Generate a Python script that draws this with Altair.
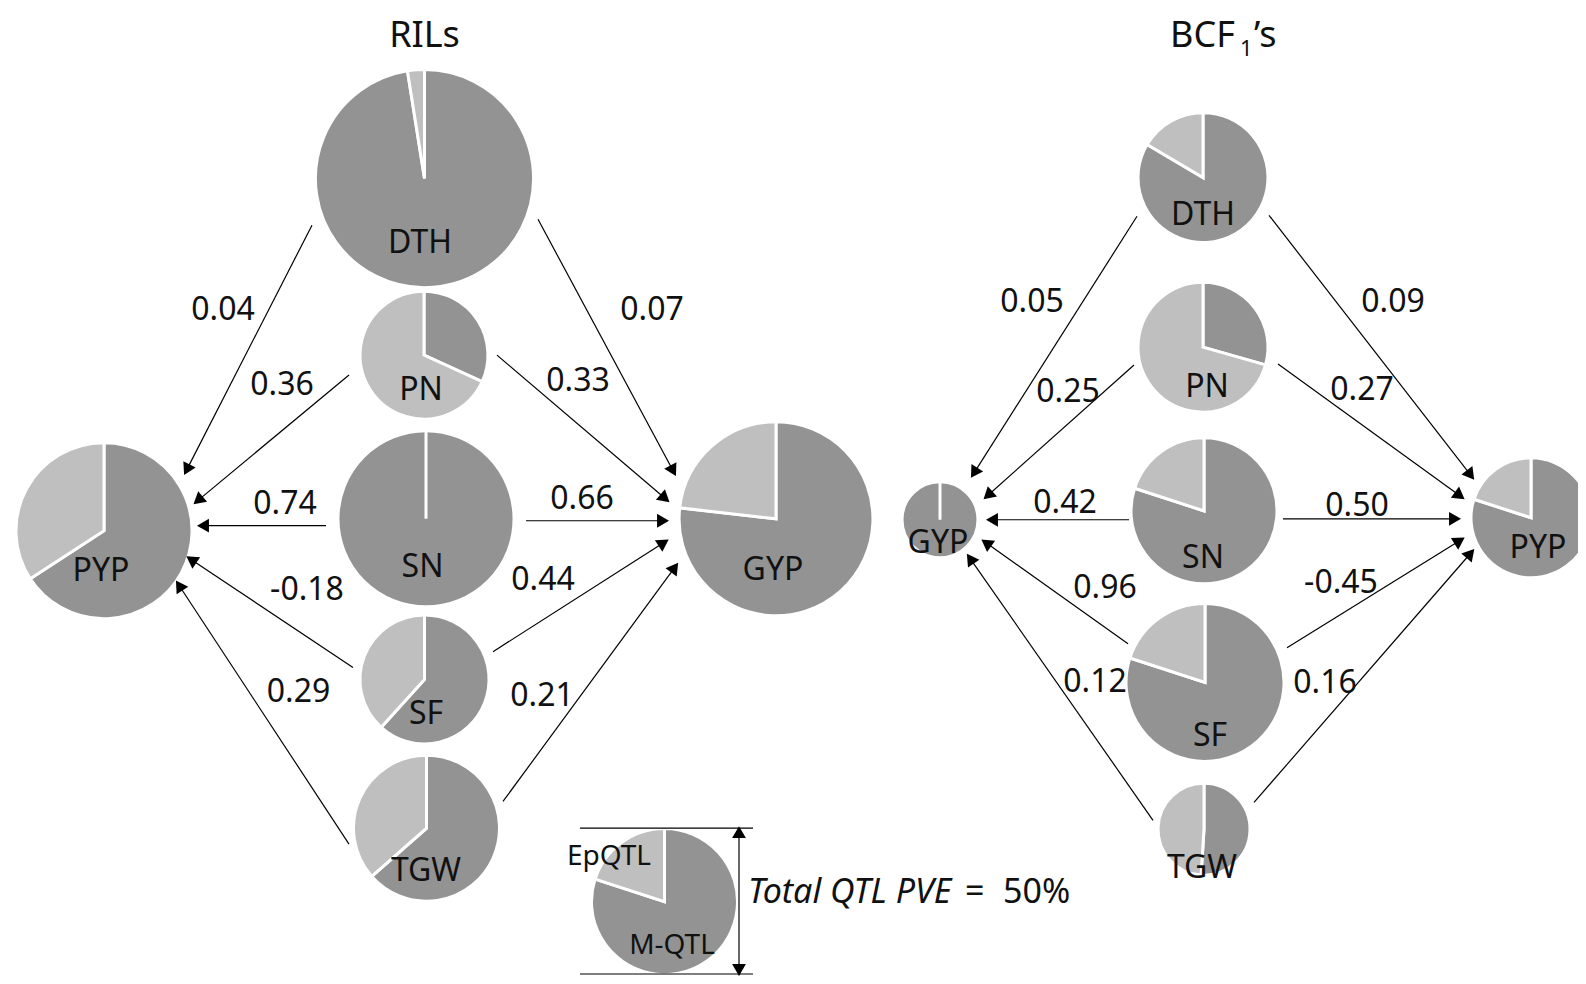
import math
import altair as alt
import pandas as pd

DARK = "#939393"
LIGHT = "#bfbfbf"
FONT = "Noto Sans"

# ---------------- nodes (pie charts) ----------------
node_panel = ["RILs"] * 7 + ["BCF1's"] * 7 + ["legend"]
node_name = ["DTH", "PN", "SN", "SF", "TGW", "PYP", "GYP",
             "DTH", "PN", "SN", "SF", "TGW", "GYP", "PYP", ""]
node_x = [424.5, 424, 426, 424.5, 426.5, 104, 776,
          1203, 1203, 1204, 1205, 1204, 940, 1531, 664.5]
node_y = [180, 358, 523, 685, 835, 535, 523,
          179, 350, 515, 688, 836, 524, 522, 909]
# total QTL PVE (%), shown by the size of each pie
total_pve = [74.7, 43.8, 60.3, 44.2, 50.0, 60.3, 66.4,
             44.5, 44.5, 50.0, 54.1, 31.5, 26.0, 41.1, 50.0]
# share of the total explained by M-QTL (rest = EpQTL)
mqtl_share = [0.975, 0.318, 1.0, 0.617, 0.635, 0.658, 0.768,
              0.835, 0.294, 0.80, 0.80, 0.51, 1.0, 0.80, 0.80]
# node label anchors
label_x = [420, 421, 422.5, 426, 426, 101, 773,
           1203, 1207, 1203, 1210, 1202, 938, 1538]
label_y = [255, 403, 582, 730, 888, 586, 585,
           227, 400, 573, 752, 885, 558, 563]

# ---------------- path coefficients (arrows) ----------------
edge_from = ["DTH", "PN", "SN", "SF", "TGW", "DTH", "PN", "SN", "SF", "TGW",
             "DTH", "PN", "SN", "SF", "TGW", "DTH", "PN", "SN", "SF", "TGW"]
edge_to = ["PYP"] * 5 + ["GYP"] * 5 + ["GYP"] * 5 + ["PYP"] * 5
edge_coef = ["0.04", "0.36", "0.74", "-0.18", "0.29",
             "0.07", "0.33", "0.66", "0.44", "0.21",
             "0.05", "0.25", "0.42", "0.96", "0.12",
             "0.09", "0.27", "0.50", "-0.45", "0.16"]
edge_x0 = [312, 349, 326, 353, 349, 538, 497, 526, 493, 503,
           1137, 1134, 1129, 1128, 1153, 1269, 1278, 1283, 1287, 1254]
edge_y0 = [227, 378, 530, 673, 851, 221, 358, 525, 657, 808,
           218, 368, 524, 649, 827, 217, 367, 523, 653, 809]
edge_x1 = [185, 195, 199, 188, 177, 675, 668, 667, 667, 677,
           972, 985, 988, 983, 968, 1473, 1463, 1459, 1463, 1473]
edge_y1 = [477, 507, 530, 562, 587, 478, 505, 525, 545, 569,
           480, 502, 524, 545, 560, 482, 502, 523, 543, 555]
coef_x = [223, 282, 285, 307, 298.5, 652, 578, 582, 543, 542,
          1032, 1068, 1065, 1105, 1095, 1393, 1362, 1357, 1341, 1325]
coef_y = [323, 398, 518, 605, 708, 323, 394, 513, 595, 712,
          315, 405, 517, 603, 698, 315, 403, 520, 598, 699]

# legend size bracket (Total QTL PVE = 50%)
bracket_y = [835, 982]
bracket_x = [580, 753]
dim_x = 739

# ---------------- build tables ----------------
pie_rows = []
for i in range(len(node_x)):
    s = mqtl_share[i]
    base = dict(node=node_name[i], panel=node_panel[i], x=node_x[i], y=node_y[i], pve=total_pve[i])
    pie_rows.append(dict(base, part="M-QTL", t0=0.0, t1=s))
    pie_rows.append(dict(base, part="EpQTL", t0=s, t1=1.0))
pie_df = pd.DataFrame(pie_rows)

HEAD = 190
HEAD_OFF = 0.433 * math.sqrt(HEAD)

def arrow_rows(x0s, y0s, x1s, y1s):
    rows = []
    for x0, y0, x1, y1 in zip(x0s, y0s, x1s, y1s):
        dx, dy = x1 - x0, y1 - y0
        L = math.hypot(dx, dy)
        ux, uy = dx / L, dy / L
        cx, cy = x1 - ux * HEAD_OFF, y1 - uy * HEAD_OFF
        ang = math.degrees(math.atan2(dx, -dy)) % 360
        rows.append(dict(x0=x0, y0=y0, hx=cx, hy=cy, ang=ang))
    return rows

mid = (bracket_y[0] + bracket_y[1]) / 2
arr = arrow_rows(edge_x0 + [dim_x, dim_x], edge_y0 + [mid, mid],
                 edge_x1 + [dim_x, dim_x], edge_y1 + [bracket_y[0], bracket_y[1]])
arrow_df = pd.DataFrame(arr)

bracket_df = pd.DataFrame(dict(x0=[bracket_x[0]] * 2, x1=[bracket_x[1]] * 2, y=bracket_y))

center_text = pd.DataFrame(
    dict(text=["RILs"] + node_name[:14] + edge_coef + ["EpQTL", "M-QTL"],
         x=[424.5] + label_x + coef_x + [609, 672],
         y=[47] + label_y + coef_y + [872, 962],
         size=[36] + [32] * 14 + [32] * 20 + [28, 28]))
left_text = pd.DataFrame(
    dict(text=["BCF", "1", "\u2019s", "=", "50%"],
         x=[1170, 1240, 1254, 965, 1003],
         y=[47, 56, 47, 910, 910],
         size=[36, 22, 36, 34, 34]))
italic_text = pd.DataFrame(dict(text=["Total QTL PVE"], x=[748], y=[910], size=[34]))

# ---------------- scales ----------------
xs = alt.Scale(domain=[8, 1578], nice=False, zero=False)
ys = alt.Scale(domain=[8, 984], reverse=True, nice=False, zero=False)

def X(f):
    return alt.X(f, type="quantitative", scale=xs, axis=None)

def Y(f):
    return alt.Y(f, type="quantitative", scale=ys, axis=None)

pies = alt.Chart(pie_df).mark_arc(stroke="white", strokeWidth=3).encode(
    x=X("x"), y=Y("y"),
    theta=alt.Theta("t0:Q", stack=None, scale=alt.Scale(domain=[0, 1], range=[0, 2 * math.pi])),
    theta2="t1:Q",
    radius=alt.Radius("pve:Q", scale=alt.Scale(type="linear", domain=[0, 50], range=[0, 73], zero=True)),
    color=alt.Color("part:N", scale=alt.Scale(domain=["M-QTL", "EpQTL"], range=[DARK, LIGHT]), legend=None),
)

lines = alt.Chart(arrow_df).mark_rule(color="black", strokeWidth=1.2).encode(
    x=X("x0"), y=Y("y0"), x2="hx:Q", y2="hy:Q")

heads = alt.Chart(arrow_df).mark_point(shape="triangle", filled=True, color="black",
                                       opacity=1, size=HEAD).encode(
    x=X("hx"), y=Y("hy"), angle=alt.Angle("ang:Q", scale=None))

brackets = alt.Chart(bracket_df).mark_rule(color="black", strokeWidth=1.2).encode(
    x=X("x0"), x2="x1:Q", y=Y("y"))

txt_c = alt.Chart(center_text).mark_text(font=FONT, align="center", baseline="alphabetic",
                                         color="#111111").encode(
    x=X("x"), y=Y("y"), text="text:N", size=alt.Size("size:Q", scale=None))
txt_l = alt.Chart(left_text).mark_text(font=FONT, align="left", baseline="alphabetic",
                                       color="#111111").encode(
    x=X("x"), y=Y("y"), text="text:N", size=alt.Size("size:Q", scale=None))
txt_i = alt.Chart(italic_text).mark_text(font=FONT, align="left", baseline="alphabetic",
                                         fontStyle="italic", color="#111111").encode(
    x=X("x"), y=Y("y"), text="text:N", size=alt.Size("size:Q", scale=None))

chart = alt.layer(pies, lines, heads, brackets, txt_c, txt_l, txt_i).properties(
    width=1570, height=968, padding=0, autosize="none", background="white"
).configure_view(stroke=None)

chart.save("out.html", embed_options={"renderer": "svg", "actions": False})
